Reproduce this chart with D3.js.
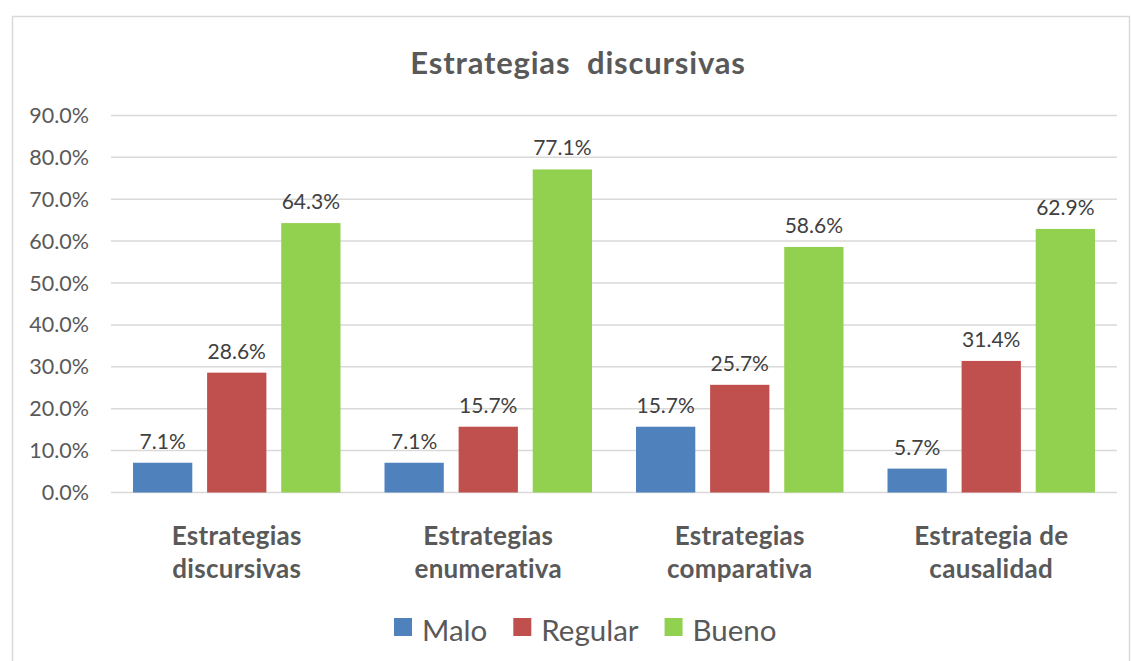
<!DOCTYPE html>
<html>
<head>
<meta charset="utf-8">
<script src="https://cdn.jsdelivr.net/npm/d3@7"></script>
<style>
  body { margin: 0; background: #fff; }
  svg { display: block; font-family: Lato, "Open Sans", sans-serif; }
</style>
</head>
<body>
<svg id="chart" width="1131" height="661"></svg>
<script>
const categories = [
  ['Estrategias', 'discursivas'],
  ['Estrategias', 'enumerativa'],
  ['Estrategias', 'comparativa'],
  ['Estrategia de', 'causalidad']
]
const seriesNames = ['Malo', 'Regular', 'Bueno']
const malo = [7.1, 7.1, 15.7, 5.7]
const regular = [28.6, 15.7, 25.7, 31.4]
const bueno = [64.3, 77.1, 58.6, 62.9]
const yTicks = [0, 10, 20, 30, 40, 50, 60, 70, 80, 90]
const colors = ['#4F81BD', '#C0504D', '#92D050']

const values = [malo, regular, bueno]
const svg = d3.select('#chart')

// chart frame
svg.append('rect')
  .attr('x', 12.5).attr('y', 16.5)
  .attr('width', 1117).attr('height', 700)
  .attr('fill', 'none').attr('stroke', '#d9d9d9').attr('stroke-width', 1.5)

const left = 111
const right = 1117
const y = d3.scaleLinear().domain([0, 90]).range([492.5, 115.4])
const x0 = d3.scaleBand().domain(d3.range(categories.length)).range([left, right])
const x1 = d3.scaleBand().domain(d3.range(seriesNames.length))
  .range([22, x0.bandwidth() - 22]).paddingInner(0.2)

svg.append('text')
  .attr('x', 578).attr('y', 74)
  .attr('text-anchor', 'middle')
  .attr('font-size', 31).attr('font-weight', 'bold')
  .attr('letter-spacing', 0.8)
  .attr('fill', '#595959')
  .attr('xml:space', 'preserve')
  .text('Estrategias  discursivas')

// gridlines
svg.append('g').selectAll('line')
  .data(yTicks)
  .join('line')
  .attr('x1', left).attr('x2', right)
  .attr('y1', d => y(d)).attr('y2', d => y(d))
  .attr('stroke', '#d9d9d9').attr('stroke-width', 1.5)

// y axis labels
svg.append('g').selectAll('text')
  .data(yTicks)
  .join('text')
  .attr('x', 89).attr('y', d => y(d) + 7.5)
  .attr('text-anchor', 'end')
  .attr('font-size', 21.5)
  .attr('fill', '#595959')
  .text(d => d.toFixed(1) + '%')

const groups = svg.append('g').selectAll('g')
  .data(categories.map((c, i) => i))
  .join('g')
  .attr('transform', i => `translate(${x0(i)},0)`)

groups.selectAll('rect')
  .data(i => values.map((s, k) => ({ k, v: s[i] })))
  .join('rect')
  .attr('x', d => x1(d.k))
  .attr('width', x1.bandwidth())
  .attr('y', d => y(d.v))
  .attr('height', d => y(0) - y(d.v))
  .attr('fill', d => colors[d.k])

groups.selectAll('text.val')
  .data(i => values.map((s, k) => ({ k, v: s[i] })))
  .join('text')
  .attr('class', 'val')
  .attr('x', d => x1(d.k) + x1.bandwidth() / 2)
  .attr('y', d => y(d.v) - 14)
  .attr('text-anchor', 'middle')
  .attr('font-size', 21)
  .attr('fill', '#404040')
  .text(d => d.v.toFixed(1) + '%')

// category labels
groups.each(function (i) {
  const t = d3.select(this).append('text')
    .attr('text-anchor', 'middle')
    .attr('font-size', 26).attr('font-weight', 'bold')
    .attr('letter-spacing', 0.3)
    .attr('fill', '#595959')
  categories[i].forEach((line, j) => {
    t.append('tspan')
      .attr('x', x0.bandwidth() / 2)
      .attr('y', 545 + j * 33)
      .text(line)
  })
})

// legend
const legend = svg.append('g')
let lx = 394
seriesNames.forEach((name, k) => {
  legend.append('rect')
    .attr('x', lx).attr('y', 618)
    .attr('width', 18).attr('height', 18)
    .attr('fill', colors[k])
  const t = legend.append('text')
    .attr('x', lx + 28).attr('y', 641)
    .attr('font-size', 29.5)
    .attr('fill', '#595959')
    .text(name)
  lx += 28 + t.node().getComputedTextLength() + 26
})
</script>
</body>
</html>
